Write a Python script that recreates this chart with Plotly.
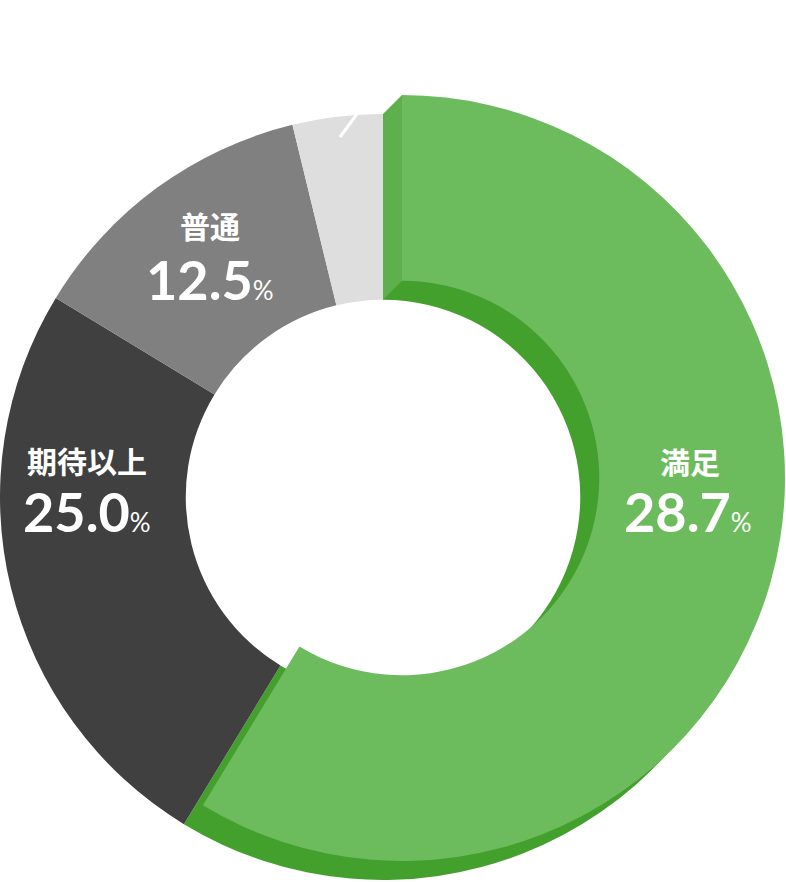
import plotly.graph_objects as go

W, H = 786, 882

# slice data (share of the ring, clockwise from 12 o'clock)
labels = ["満足", "期待以上", "普通", "その他"]
values = [58.7, 25.0, 12.5, 3.8]
shown_pct = ["28.7", "25.0", "12.5", ""]
base_colors = ["#43a02c", "#404040", "#808080", "#dedede"]
face_color = "#6cbb5c"
wall_color = "#5eb04c"

# label centres in pixels (name, number)
label_pos = [((690, 461), (688, 511)), ((87, 460), (87, 511)), ((210, 225), (210, 279)), None]

cx, cy, R = 383, 497, 383
dx, dy = 19, -19  # offset of the raised green face
hole = 0.515
r_in = R * hole


def dom(x0, y0):
    return dict(x=[(x0 - R) / W, (x0 + R) / W],
                y=[1 - (y0 + R) / H, 1 - (y0 - R) / H])


def px(x, y):
    return x / W, 1 - y / H


fig = go.Figure()
fig.add_trace(go.Pie(
    labels=labels, values=values, sort=False, direction="clockwise", rotation=0,
    hole=hole, domain=dom(cx, cy), textinfo="none", hoverinfo="label+percent",
    marker=dict(colors=base_colors, line=dict(width=0)), showlegend=False,
))

# side wall of the raised slice along its 12 o'clock edge
pts = [px(cx, cy - R), px(cx + dx, cy - R + dy), px(cx + dx, cy - r_in + dy), px(cx, cy - r_in)]
path = "M " + " L ".join(f"{a},{b}" for a, b in pts) + " Z"
fig.add_shape(type="path", path=path, xref="paper", yref="paper",
              fillcolor=wall_color, line=dict(width=0), layer="above")

fig.add_trace(go.Pie(
    labels=labels, values=values, sort=False, direction="clockwise", rotation=0,
    hole=hole, domain=dom(cx + dx, cy + dy), textinfo="none", hoverinfo="skip",
    marker=dict(colors=[face_color, "rgba(0,0,0,0)", "rgba(0,0,0,0)", "rgba(0,0,0,0)"],
                line=dict(width=0)), showlegend=False,
))

jp_font = "Noto Sans CJK JP"
num_font = "Lato"
for name, pct, pos in zip(labels, shown_pct, label_pos):
    if pos is None:
        continue
    (nx, ny), (qx, qy) = pos
    fig.add_annotation(x=nx / W, y=1 - ny / H, xref="paper", yref="paper",
                       xanchor="center", yanchor="middle",
                       text="<b>" + name + "</b>", showarrow=False,
                       font=dict(family=jp_font, size=30, color="white"))
    fig.add_annotation(x=qx / W, y=1 - qy / H, xref="paper", yref="paper",
                       xanchor="center", yanchor="middle",
                       text="<b>" + pct + "</b><span style='font-size:26px'>%</span>",
                       showarrow=False,
                       font=dict(family=num_font, size=54, color="white"))

# small leader line of the tiny slice
fig.add_shape(type="line", xref="paper", yref="paper",
              x0=340 / W, y0=1 - 137 / H, x1=357 / W, y1=1 - 114 / H,
              line=dict(color="white", width=3))

fig.update_layout(width=W, height=H, margin=dict(l=0, r=0, t=0, b=0),
                  paper_bgcolor="white", plot_bgcolor="white")
fig.write_html("out.html", config={"displayModeBar": False},
               post_script="document.body.style.margin='0px';")
